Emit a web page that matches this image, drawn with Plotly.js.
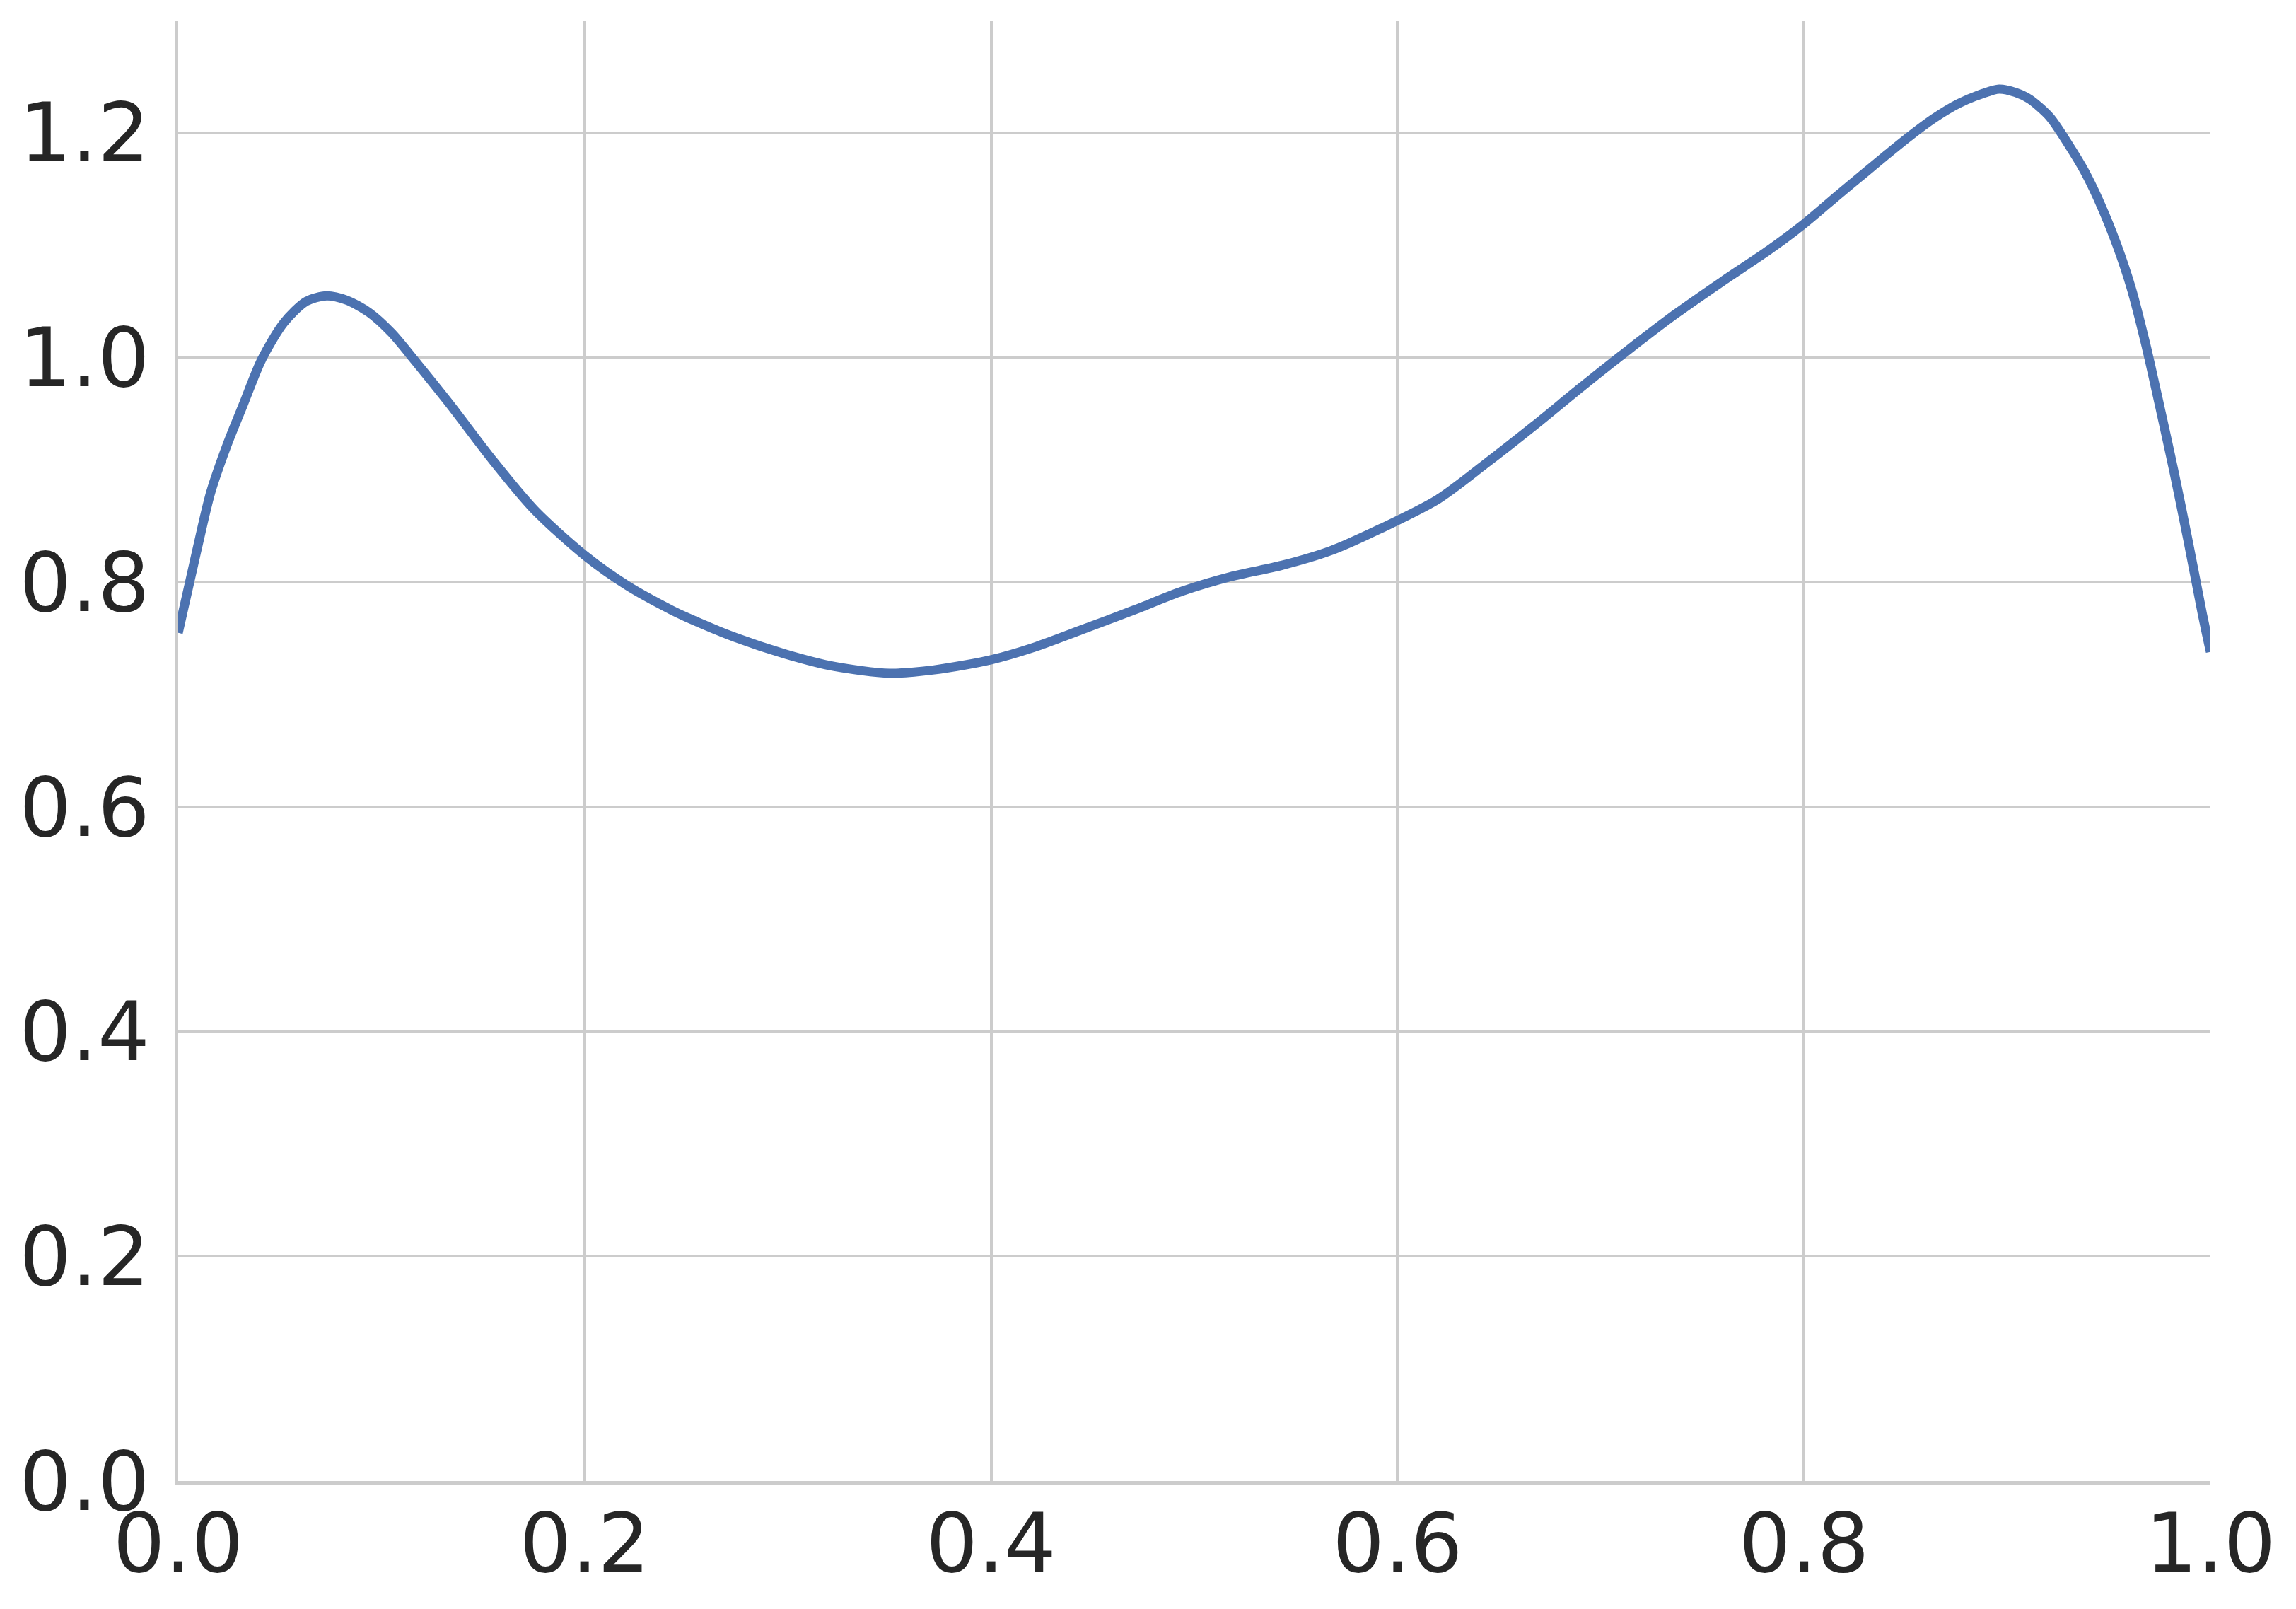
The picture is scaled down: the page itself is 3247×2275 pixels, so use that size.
<!DOCTYPE html>
<html>
<head>
<meta charset="utf-8">
<script src="https://cdn.plot.ly/plotly-3.0.1.min.js"></script>
<style>
  html, body { margin: 0; padding: 0; background: #ffffff; }
  #chart { width: 3247px; height: 2275px; }
</style>
</head>
<body>
<div id="chart"></div>
<script>
// curve
const xValues = [
    0.000, 0.009, 0.016, 0.024, 0.032, 0.041, 0.052, 0.063, 0.073, 0.083,
    0.094, 0.105, 0.117, 0.133, 0.155, 0.175, 0.200, 0.221, 0.243, 0.250,
    0.274, 0.299, 0.323, 0.350, 0.372, 0.400, 0.421, 0.445, 0.470, 0.494,
    0.518, 0.543, 0.567, 0.592, 0.620, 0.643, 0.667, 0.690, 0.713,
    0.737, 0.760, 0.783, 0.800, 0.817, 0.829, 0.841, 0.852, 0.864, 0.876,
    0.888, 0.896, 0.904, 0.911, 0.921, 0.930, 0.938, 0.946, 0.954, 0.961,
    0.968, 0.975, 0.982, 0.989, 0.996, 1.000
];
const yValues = [
    0.755, 0.827, 0.880, 0.922, 0.958, 0.998, 1.031, 1.050, 1.055, 1.051,
    1.040, 1.022, 0.996, 0.960, 0.908, 0.865, 0.824, 0.797, 0.775, 0.769,
    0.751, 0.736, 0.725, 0.719, 0.722, 0.731, 0.742, 0.758, 0.775, 0.792,
    0.805, 0.815, 0.828, 0.848, 0.874, 0.905, 0.939, 0.973, 1.006,
    1.039, 1.068, 1.096, 1.119, 1.145, 1.163, 1.181, 1.197, 1.213, 1.226,
    1.235, 1.239, 1.236, 1.230, 1.214, 1.190, 1.166, 1.136, 1.100, 1.062,
    1.013, 0.957, 0.899, 0.837, 0.772, 0.738
];
const xTicks = [0, 0.2, 0.4, 0.6, 0.8, 1.0];
const yTicks = [0, 0.2, 0.4, 0.6, 0.8, 1.0, 1.2];

const lineColor = '#4c72b0';
const gridColor = '#cccccc';
const textColor = '#262626';

const trace = {
    x: xValues,
    y: yValues,
    type: 'scatter',
    mode: 'lines',
    line: { color: lineColor, width: 13, shape: 'spline', smoothing: 0.8 },
    hoverinfo: 'skip',
};

const axisBase = {
    showgrid: true,
    gridcolor: gridColor,
    gridwidth: 4,
    zeroline: false,
    showline: true,
    linecolor: gridColor,
    linewidth: 5,
    ticks: '',
    tickformat: '.1f',
    tickfont: { family: 'DejaVu Sans, sans-serif', size: 116, color: textColor },
};

const layout = {
    width: 3247,
    height: 2275,
    paper_bgcolor: '#ffffff',
    plot_bgcolor: '#ffffff',
    margin: { l: 252, r: 121, t: 29, b: 181 },
    showlegend: false,
    xaxis: {
        ...axisBase,
        range: [0, 1],
        tickvals: xTicks,
        ticklabelstandoff: -16,
    },
    yaxis: {
        ...axisBase,
        range: [0, 1.3],
        tickvals: yTicks,
        ticklabelstandoff: 12,
    },
};

Plotly.newPlot('chart', [trace], layout, { displayModeBar: false, staticPlot: true });
</script>
</body>
</html>
